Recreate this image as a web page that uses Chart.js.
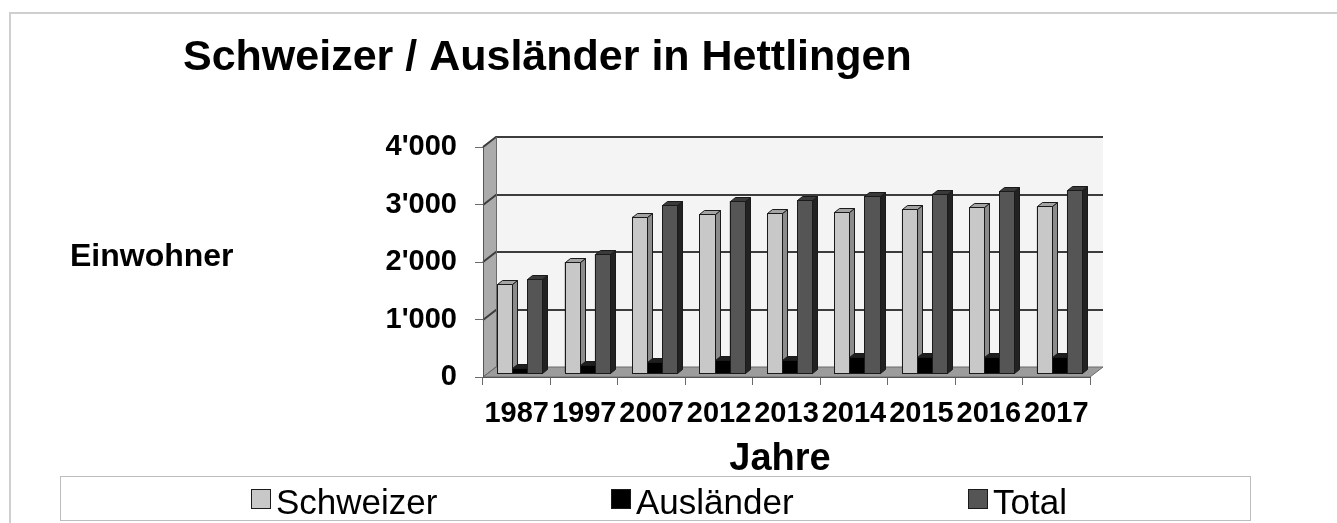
<!DOCTYPE html>
<html>
<head>
<meta charset="utf-8">
<script src="https://cdn.jsdelivr.net/npm/chart.js@4.4.1/dist/chart.umd.min.js"></script>
<style>
  html, body { margin: 0; padding: 0; background: #fff; }
  #wrap { position: relative; width: 1337px; height: 523px; }
</style>
</head>
<body>
<div id="wrap"><canvas id="chart" width="1337" height="523"></canvas></div>
<script>
// data
const years = ['1987', '1997', '2007', '2012', '2013', '2014', '2015', '2016', '2017'];
const schweizer = [1540, 1930, 2720, 2770, 2780, 2800, 2850, 2890, 2900];
const auslaender = [90, 140, 200, 220, 230, 270, 270, 270, 280];
const total = [1630, 2070, 2920, 2990, 3010, 3070, 3120, 3160, 3180];
const yTicks = [0, 1000, 2000, 3000, 4000];

const FONT = '"Liberation Sans", Arial, sans-serif';

// 3d look
const WALL_DX = 13, WALL_DY = -10;   // back wall offset
const BAR_DX = 3, BAR_DY = -4;       // bars sit a bit behind the front plane
const DEPTH_X = 5, DEPTH_Y = -4;     // bar depth

const faces = [
  { front: '#c8c8c8', side: '#8c8c8c', top: '#a4a4a4' },
  { front: '#000000', side: '#000000', top: '#1e1e1e' },
  { front: '#555555', side: '#222222', top: '#3a3a3a' }
];

function fmt(v) {
  return v === 0 ? '0' : (v / 1000) + "'000";
}

const frame3d = {
  id: 'frame3d',
  beforeDraw(chart) {
    const ctx = chart.ctx;
    const a = chart.chartArea;
    const y = chart.scales.y;
    ctx.save();
    // outer border
    ctx.strokeStyle = '#cfcfcf';
    ctx.lineWidth = 2;
    ctx.strokeRect(10, 13, 1400, 600);

    // back wall
    ctx.fillStyle = '#f4f4f4';
    ctx.fillRect(a.left + WALL_DX, a.top + WALL_DY, a.right - a.left, a.bottom - a.top);
    // left wall
    ctx.fillStyle = '#ababab';
    ctx.beginPath();
    ctx.moveTo(a.left, a.top);
    ctx.lineTo(a.left + WALL_DX, a.top + WALL_DY);
    ctx.lineTo(a.left + WALL_DX, a.bottom + WALL_DY);
    ctx.lineTo(a.left, a.bottom);
    ctx.closePath();
    ctx.fill();
    // floor
    ctx.fillStyle = '#9c9c9c';
    ctx.beginPath();
    ctx.moveTo(a.left, a.bottom);
    ctx.lineTo(a.left + WALL_DX, a.bottom + WALL_DY);
    ctx.lineTo(a.right + WALL_DX, a.bottom + WALL_DY);
    ctx.lineTo(a.right, a.bottom);
    ctx.closePath();
    ctx.fill();
    ctx.strokeStyle = '#6a6a6a';
    ctx.lineWidth = 1;
    ctx.stroke();

    // grid lines on the back and left walls
    yTicks.forEach(v => {
      const py = Math.round(y.getPixelForValue(v));
      ctx.strokeStyle = v === 0 ? '#6a6a6a' : '#3c3c3c';
      ctx.lineWidth = v === 0 ? 1 : 2;
      ctx.beginPath();
      ctx.moveTo(a.left, py);
      ctx.lineTo(a.left + WALL_DX, py + WALL_DY);
      if (v !== 0) ctx.lineTo(a.right + WALL_DX, py + WALL_DY);
      ctx.stroke();
    });
    ctx.strokeStyle = '#6a6a6a';
    ctx.lineWidth = 1;
    ctx.beginPath();
    ctx.moveTo(a.left + WALL_DX + 0.5, a.top + WALL_DY);
    ctx.lineTo(a.left + WALL_DX + 0.5, a.bottom + WALL_DY);
    ctx.stroke();
    ctx.restore();
  },
  beforeDatasetsDraw(chart) {
    chart.ctx.save();
    chart.ctx.translate(BAR_DX, BAR_DY);
  },
  afterDatasetsDraw(chart) {
    const ctx = chart.ctx;
    const n = chart.data.labels.length;
    for (let i = 0; i < n; i++) {
      chart.data.datasets.forEach((ds, di) => {
        const el = chart.getDatasetMeta(di).data[i];
        const p = el.getProps(['x', 'y', 'base', 'width'], true);
        const l = Math.round(p.x - p.width / 2) + 0.5;
        const r = Math.round(p.x + p.width / 2) + 0.5;
        const t = Math.round(p.y) + 0.5;
        const b = Math.round(p.base) + 0.5;
        const f = faces[di];
        ctx.strokeStyle = '#1a1a1a';
        ctx.lineWidth = 1;
        // front
        ctx.fillStyle = f.front;
        ctx.fillRect(l, t, r - l, b - t);
        ctx.strokeRect(l, t, r - l, b - t);
        // side
        ctx.fillStyle = f.side;
        ctx.beginPath();
        ctx.moveTo(r, t);
        ctx.lineTo(r + DEPTH_X, t + DEPTH_Y);
        ctx.lineTo(r + DEPTH_X, b + DEPTH_Y);
        ctx.lineTo(r, b);
        ctx.closePath();
        ctx.fill();
        ctx.stroke();
        // top
        ctx.fillStyle = f.top;
        ctx.beginPath();
        ctx.moveTo(l, t);
        ctx.lineTo(l + DEPTH_X, t + DEPTH_Y);
        ctx.lineTo(r + DEPTH_X, t + DEPTH_Y);
        ctx.lineTo(r, t);
        ctx.closePath();
        ctx.fill();
        ctx.stroke();
      });
    }
    ctx.restore();
  },
  afterDraw(chart) {
    const ctx = chart.ctx;
    ctx.save();
    ctx.fillStyle = '#000';
    ctx.textBaseline = 'alphabetic';
    ctx.textAlign = 'left';
    ctx.font = 'bold 43px ' + FONT;
    ctx.fillText('Schweizer / Ausländer in Hettlingen', 183, 70);
    ctx.font = 'bold 32px ' + FONT;
    ctx.fillText('Einwohner', 70, 266);
    ctx.textAlign = 'center';
    ctx.font = 'bold 38px ' + FONT;
    ctx.fillText('Jahre', 780, 470);

    // legend
    ctx.strokeStyle = '#bdbdbd';
    ctx.lineWidth = 1;
    ctx.strokeRect(60.5, 476.5, 1190, 44);
    ctx.font = '35px ' + FONT;
    ctx.textAlign = 'left';
    const gap = 174, box = 19, pad = 6;
    const items = chart.data.datasets.map((ds, di) => ({
      label: ds.label, color: faces[di].front, w: box + pad + ctx.measureText(ds.label).width
    }));
    const totalW = items.reduce((s, it) => s + it.w, 0) + gap * (items.length - 1);
    let x = Math.round(659 - totalW / 2);
    items.forEach(it => {
      ctx.fillStyle = it.color;
      ctx.fillRect(x + 0.5, 489.5, box, box);
      ctx.strokeStyle = '#1a1a1a';
      ctx.strokeRect(x + 0.5, 489.5, box, box);
      ctx.fillStyle = '#000';
      ctx.fillText(it.label, x + box + pad, 514);
      x += Math.round(it.w + gap);
    });
    ctx.restore();
  }
};

const ctx = document.getElementById('chart').getContext('2d');
const chart = new Chart(ctx, {
  type: 'bar',
  data: {
    labels: years,
    datasets: [
      { label: 'Schweizer', data: schweizer, backgroundColor: faces[0].front, borderColor: '#1a1a1a', borderWidth: 1 },
      { label: 'Ausländer', data: auslaender, backgroundColor: faces[1].front, borderColor: '#1a1a1a', borderWidth: 1 },
      { label: 'Total', data: total, backgroundColor: faces[2].front, borderColor: '#1a1a1a', borderWidth: 1 }
    ]
  },
  options: {
    responsive: false,
    animation: false,
    clip: false,
    categoryPercentage: 0.67,
    barPercentage: 1.0,
    layout: { padding: { left: 363, right: 247, top: 147, bottom: 86 } },
    plugins: {
      legend: { display: false },
      title: { display: false },
      tooltip: { enabled: false }
    },
    scales: {
      x: {
        grid: { drawOnChartArea: false, tickLength: 8, color: '#6a6a6a' },
        border: { color: '#555555' },
        ticks: { color: '#000', padding: 12, maxRotation: 0, autoSkip: false,
                 font: { family: FONT, size: 29, weight: 'bold' } },
        afterFit(s) { s.height = 60; }
      },
      y: {
        min: 0,
        max: 4000,
        grid: { drawOnChartArea: false, tickLength: 8, color: '#6a6a6a' },
        border: { color: '#555555' },
        ticks: { color: '#000', padding: 18, stepSize: 1000, callback: v => fmt(v),
                 font: { family: FONT, size: 29, weight: 'bold' } },
        afterFit(s) { s.width = 120; }
      }
    }
  },
  plugins: [frame3d]
});
</script>
</body>
</html>
